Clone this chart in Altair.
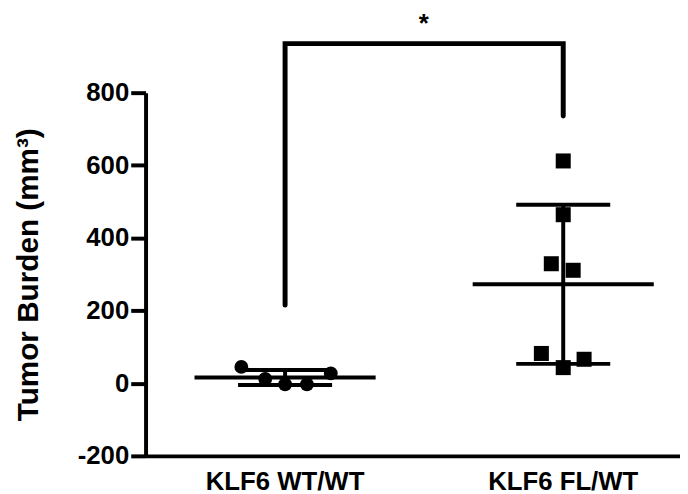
import altair as alt
import pandas as pd

groups = ["KLF6 WT/WT", "KLF6 FL/WT"]

wt_values = [45, 12, -3, -3, 27]
wt_jitter = [-44, -20, 0, 22, 46]
fl_values = [612, 464, 329, 311, 82, 66, 43]
fl_jitter = [0, 0, -12, 10, -22, 21, 0]

y_ticks = [-200, 0, 200, 400, 600, 800]
y_domain = [-200, 800]

bracket_groups = ["KLF6 WT/WT", "KLF6 WT/WT", "KLF6 FL/WT", "KLF6 FL/WT"]
bracket_y = [215, 935, 935, 736]
star_y = [990]
star_label = ["*"]

points = pd.DataFrame({
    "group": [groups[0]] * len(wt_values) + [groups[1]] * len(fl_values),
    "value": wt_values + fl_values,
    "jitter": wt_jitter + fl_jitter,
})
bracket = pd.DataFrame({"group": bracket_groups, "y": bracket_y, "order": list(range(len(bracket_y)))})
star = pd.DataFrame({"group": [groups[0]], "y": star_y, "label": star_label})

FONT = "Liberation Sans"
xscale = alt.Scale(domain=groups, paddingInner=0.5, paddingOuter=0.2107, align=0.597)
yscale = alt.Scale(domain=y_domain, nice=False, zero=False)
ytitle = "Tumor Burden (mm³)"

xaxis = alt.Axis(ticks=False, labelFontSize=26, labelFontWeight="bold", labelFont=FONT,
                 labelColor="black", labelPadding=13, domainWidth=4, domainColor="black",
                 labelAngle=0, grid=False)
yaxis = alt.Axis(values=y_ticks, tickSize=15, tickWidth=4, tickColor="black",
                 domainWidth=4, domainColor="black", labelFontSize=26, labelFontWeight="bold",
                 labelFont=FONT, labelColor="black", labelPadding=2, grid=False,
                 labelExpr="'' + datum.value",
                 titleFontSize=30, titleFontWeight="bold", titleFont=FONT, titleColor="black",
                 titlePadding=34)


def X():
    return alt.X("group:N", sort=groups, scale=xscale, axis=xaxis, title=None)


def Y(field):
    return alt.Y(field, scale=yscale, axis=yaxis, title=ytitle)


pts = alt.Chart(points).mark_point(filled=True, opacity=1, color="black").encode(
    x=X(),
    xOffset=alt.XOffset("jitter:Q", scale=alt.Scale(domain=[-70, 70])),
    y=Y("value:Q"),
    shape=alt.Shape("group:N", scale=alt.Scale(domain=groups, range=["circle", "square"]), legend=None),
    size=alt.Size("group:N", scale=alt.Scale(domain=groups, range=[195, 230]), legend=None),
)

stats = alt.Chart(points).transform_aggregate(
    mean="mean(value)", sd="stdev(value)", groupby=["group"]
).transform_calculate(lo="datum.mean - datum.sd", hi="datum.mean + datum.sd")

mean_tick = stats.mark_tick(size=183, thickness=4, color="black", opacity=1).encode(x=X(), y=Y("mean:Q"))
caps = stats.transform_fold(["lo", "hi"], as_=["k", "v"]).mark_tick(
    size=95, thickness=4, color="black", opacity=1).encode(x=X(), y=Y("v:Q"))
vline = stats.mark_rule(strokeWidth=4, color="black").encode(x=X(), y=Y("lo:Q"), y2="hi:Q")

br = alt.Chart(bracket).mark_line(strokeWidth=5, color="black", strokeJoin="miter", strokeCap="round").encode(
    x=X(), y=Y("y:Q"), order="order:Q")

st = alt.Chart(star).mark_text(fontSize=26, font=FONT, fontWeight="bold", color="black", dx=140,
                               baseline="middle").encode(x=X(), y=Y("y:Q"), text="label:N")

chart = alt.layer(vline, caps, mean_tick, pts, br, st).properties(
    width=540, height=367,
    padding={"left": 5, "top": 0, "right": 0, "bottom": 0},
).configure_view(stroke=None, strokeWidth=0).configure_axis(grid=False)

chart.save("out.html", embed_options={"renderer": "svg", "actions": False})
